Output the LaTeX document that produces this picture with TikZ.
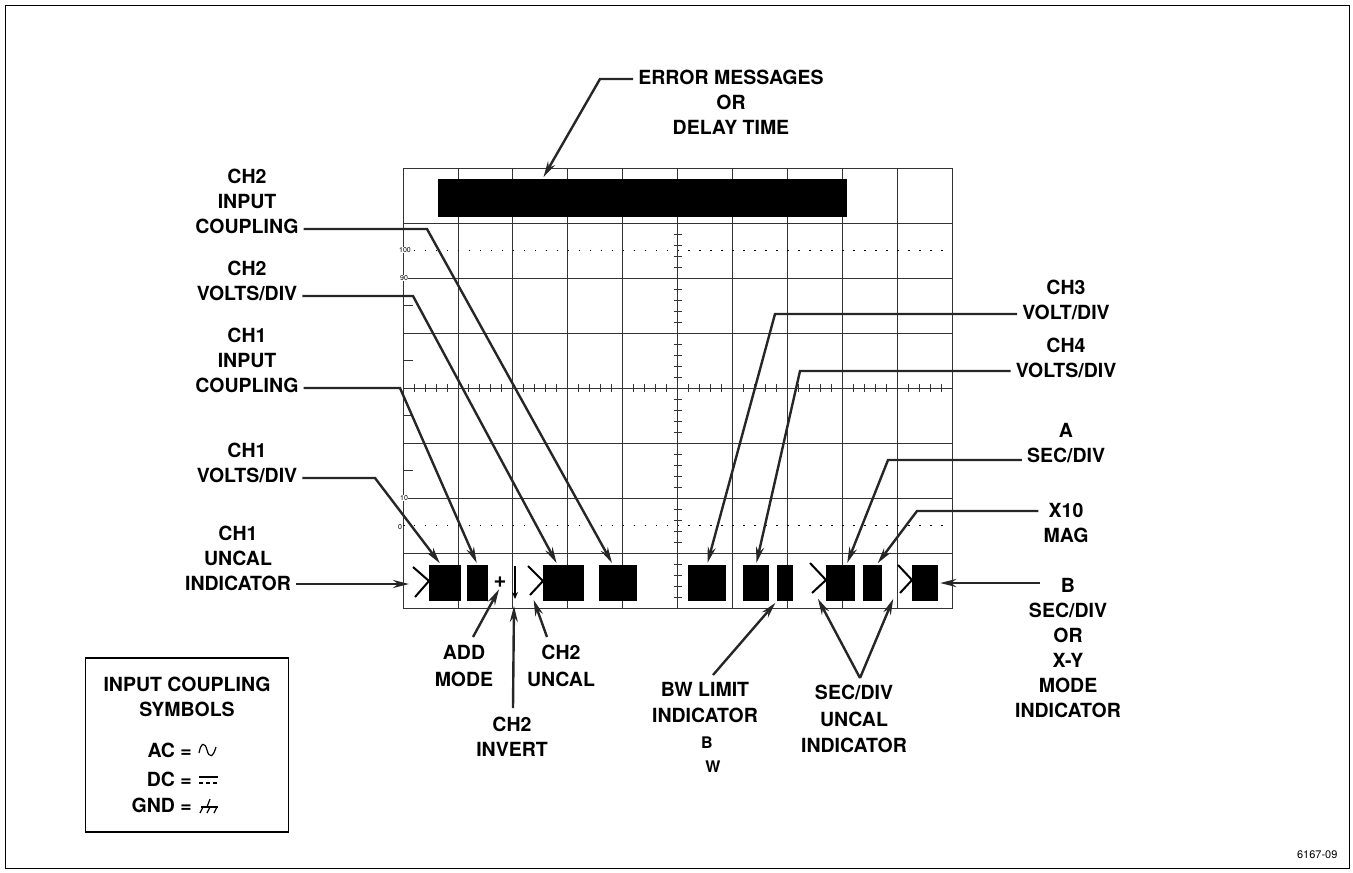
\documentclass[tikz,border=0pt]{standalone}
\usepackage{fontspec}
\setmainfont{TeX Gyre Heros}
\usetikzlibrary{arrows.meta}

\begin{document}
\begin{tikzpicture}[x=1pt, y=-1pt]
	\tikzset{lbl/.style={align=center, inner xsep=5pt, inner ysep=0pt, font=\fontsize{19.5}{25}\selectfont\bfseries}};
	\tikzset{seg/.style={fill=black, draw=none, minimum height=36pt, inner sep=0pt}};
	\tikzset{lead/.style={draw=black!85, line width=2.4pt, -{Stealth[length=16pt, width=8pt]}, shorten >=2pt}};
	\tikzset{grid/.style={draw=black!80, line width=0.8pt}};
	\tikzset{chev/.style={draw=black, line width=2pt}};
	\tikzset{tiny/.style={font=\fontsize{7}{7}\selectfont, fill=white, inner sep=0.5pt}};

	\useasboundingbox (0,0) rectangle (1353,873);
	\draw[line width=1pt] (5,5) rectangle (1349,868);

	% graticule
	\draw[grid] (403,168) rectangle (952,608);
	\foreach \i in {1,...,9} \draw[grid] (403+54.9*\i,168) -- (403+54.9*\i,608);
	\foreach \j in {1,...,7} \draw[grid] (403,168+55*\j) -- (952,168+55*\j);
	\foreach \k in {1,...,49} \draw[grid] (403+10.98*\k,384) -- (403+10.98*\k,392);
	\foreach \k in {1,...,39} \draw[grid] (673.5,168+11*\k) -- (681.5,168+11*\k);
	\foreach \y in {250.5,525.5} \draw[line width=1pt, dash pattern=on 1.5pt off 9.48pt] (403,\y) -- (952,\y);
	\foreach \j in {2.5,3.5,4.5,5.5} \draw[grid] (403,168+55*\j) -- (413,168+55*\j);
	\node[tiny] (p100) at (405,250) {100};
	\node[tiny] (p90) at (404,278) {90};
	\node[tiny] (p10) at (404,498) {10};
	\node[tiny] (p0) at (400,527) {0};

	% readouts
	\node[seg, minimum width=409pt, minimum height=38pt] (msg) at (642.5,198) {};
	\node[seg, minimum width=32pt] (b1) at (445,583) {};
	\node[seg, minimum width=21pt] (b2) at (477.5,583) {};
	\node[seg, minimum width=41pt] (b3) at (563.5,583) {};
	\node[seg, minimum width=38pt] (b4) at (618,583) {};
	\node[seg, minimum width=38pt] (b5) at (707,583) {};
	\node[seg, minimum width=26pt] (b6) at (756,583) {};
	\node[seg, minimum width=16pt] (b7) at (785,583) {};
	\node[seg, minimum width=29pt] (b8) at (840.5,583) {};
	\node[seg, minimum width=19pt] (b9) at (872.5,583) {};
	\node[seg, minimum width=26pt] (b10) at (925,583) {};

	\draw[chev] (413,567) -- (429,581) -- (415,597);
	\draw[chev] (528,566) -- (543,581) -- (530,595);
	\draw[chev] (810,563) -- (826,580) -- (812,593);
	\draw[chev] (898,565) -- (912,580) -- (900,593);
	\coordinate (c1) at (411,584);
	\coordinate (c2) at (533,598);
	\coordinate (c3) at (817,597);
	\coordinate (c4) at (894,597);
	\node[font=\fontsize{22}{22}\selectfont\bfseries, inner sep=0pt] (add) at (500,582) {+};
	\draw[line width=1.6pt, -{Stealth[length=7pt, width=6pt]}] (515,566) -- (515,599);
	\coordinate (inv) at (514,604);

	% labels
	\node[lbl, anchor=north] (err) at (731,70) {ERROR MESSAGES\\OR\\DELAY TIME};
	\node[lbl, anchor=north] (ch2cpl) at (247,169) {CH2\\INPUT\\COUPLING};
	\node[lbl, anchor=north] (ch2vd) at (247,261) {CH2\\VOLTS/DIV};
	\node[lbl, anchor=north] (ch1cpl) at (247,328) {CH1\\INPUT\\COUPLING};
	\node[lbl, anchor=north] (ch1vd) at (247,443) {CH1\\VOLTS/DIV};
	\node[lbl, anchor=north] (ch1unc) at (238,526) {CH1\\UNCAL\\INDICATOR};
	\node[lbl, anchor=north, font=\fontsize{19.5}{27}\selectfont\bfseries] (addmode) at (464,645) {ADD\\MODE};
	\node[lbl, anchor=north] (ch2inv) at (512,717) {CH2\\INVERT};
	\node[lbl, anchor=north, font=\fontsize{19.5}{27}\selectfont\bfseries] (ch2unc) at (561,645) {CH2\\UNCAL};
	\node[lbl, anchor=north, font=\fontsize{19.5}{26}\selectfont\bfseries] (bwlim) at (705,682) {BW LIMIT\\INDICATOR};
	\node[font=\fontsize{16}{16}\selectfont\bfseries] (bwb) at (707,743) {B};
	\node[font=\fontsize{16}{16}\selectfont\bfseries] (bww) at (713,767) {W};
	\node[lbl, anchor=north, font=\fontsize{19.5}{26.5}\selectfont\bfseries] (secunc) at (854,685) {SEC/DIV\\UNCAL\\INDICATOR};
	\node[lbl, anchor=north] (ch3vd) at (1066,280) {CH3\\VOLT/DIV};
	\node[lbl, anchor=north] (ch4vd) at (1066,338) {CH4\\VOLTS/DIV};
	\node[lbl, anchor=north] (asec) at (1066,423) {A\\SEC/DIV};
	\node[lbl, anchor=north] (mag) at (1066,503) {X10\\MAG};
	\node[lbl, anchor=north] (bsec) at (1068,578) {B\\SEC/DIV\\OR\\X-Y\\MODE\\INDICATOR};

	% leaders
	\draw[lead] (err.west |- 0,79) -- (600,79) -- ([xshift=-100pt]msg.north);
	\draw[lead] (ch2cpl.east |- 0,229) -- (427,229) -- ([xshift=-5pt]b4.north);
	\draw[lead] (ch2vd.east |- 0,296) -- (413,296) -- ([xshift=-6pt]b3.north);
	\draw[lead] (ch1cpl.east |- 0,388) -- (400,388) -- (b2.north);
	\draw[lead] (ch1vd.east |- 0,478) -- (375,478) -- ([xshift=-4pt]b1.north);
	\draw[lead] (ch1unc.east |- 0,584) -- (c1);
	\draw[lead] ([xshift=9pt,yshift=8pt]addmode.north) -- (add.south);
	\draw[lead] ([xshift=1pt,yshift=9pt]ch2inv.north) -- (inv);
	\draw[lead] ([xshift=-14pt,yshift=8pt]ch2unc.north) -- (c2);
	\draw[lead] ([xshift=8pt,yshift=7pt]bwlim.north) -- (b7.south west);
	\draw[lead] ([xshift=6pt,yshift=7pt]secunc.north) -- (c3);
	\draw[lead] ([xshift=6pt,yshift=7pt]secunc.north) -- (c4);
	\draw[lead] (ch3vd.west |- 0,314) -- (775,314) -- (b5.north);
	\draw[lead] (ch4vd.west |- 0,371) -- (800,371) -- (b6.north);
	\draw[lead] (asec.west |- 0,460) -- (888,460) -- ([xshift=6pt]b8.north);
	\draw[lead] (mag.west |- 0,511) -- (917,511) -- ([xshift=4pt]b9.north);
	\draw[lead] ([xshift=-28pt,yshift=-5pt]bsec.north) -- (b10.east);

	% symbol key
	\node[draw, line width=1.2pt, minimum width=203pt, minimum height=174pt] (key) at (187,745) {};
	\node[lbl, anchor=north] (keyt) at (187,677) {INPUT COUPLING\\SYMBOLS};
	\node[lbl, anchor=north east] (ac) at (197,743) {AC =};
	\node[lbl, anchor=north east] (dc) at (197,772) {DC =};
	\node[lbl, anchor=north east] (gnd) at (197,798) {GND =};
	\draw[line width=1.2pt] (199,753) .. controls (201,742) and (205,742) .. (207,750) .. controls (209,758) and (213,758) .. (216,747);
	\draw[line width=1.4pt] (199,777) -- (218,777);
	\foreach \x in {199,206,213} \draw[line width=1.4pt] (\x,783) -- (\x+4,783);
	\draw[line width=1.2pt] (210,799) -- (207,807);
	\draw[line width=1.2pt] (201,807) -- (218,807);
	\foreach \x in {203,210,217} \draw[line width=1.2pt] (\x,807) -- (\x-3,813);

	\node[font=\fontsize{11}{11}\selectfont, anchor=east] (fig) at (1341,855) {6167-09};
\end{tikzpicture}
\end{document}
